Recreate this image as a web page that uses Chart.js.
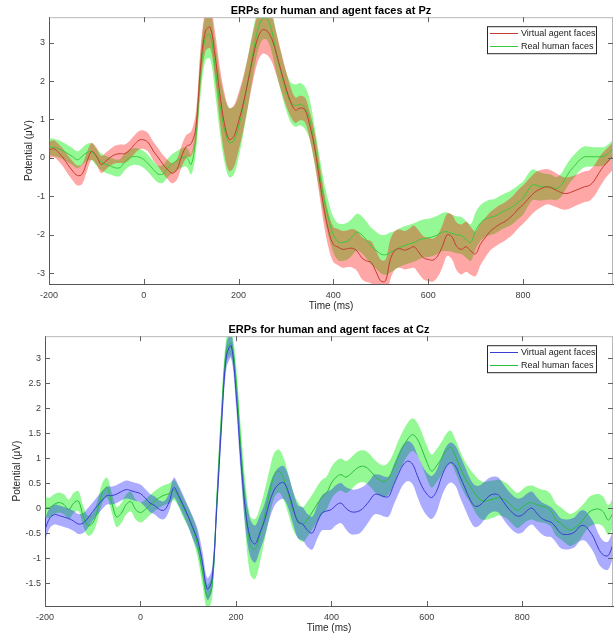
<!DOCTYPE html>
<html>
<head>
<meta charset="utf-8">
<script src="https://cdn.jsdelivr.net/npm/chart.js@4.4.0/dist/chart.umd.min.js"></script>
<style>
  html, body { margin: 0; padding: 0; background: #fff; }
  .panel { position: absolute; left: 0; width: 616px; height: 319px; }
  #pz-panel { top: 0; }
  #cz-panel { top: 319px; }
</style>
</head>
<body>
<div class="panel" id="pz-panel"><canvas id="pzChart" width="616" height="319"></canvas></div>
<div class="panel" id="cz-panel"><canvas id="czChart" width="616" height="319"></canvas></div>
<script>
// time axis (ms), one sample every 10 ms
const times = [
  -200, -190, -180, -170, -160, -150, -140, -130, -120, -110,
  -100, -90, -80, -70, -60, -50, -40, -30, -20, -10,
  0, 10, 20, 30, 40, 50, 60, 70, 80, 90,
  100, 110, 120, 130, 140, 150, 160, 170, 180, 190,
  200, 210, 220, 230, 240, 250, 260, 270, 280, 290,
  300, 310, 320, 330, 340, 350, 360, 370, 380, 390,
  400, 410, 420, 430, 440, 450, 460, 470, 480, 490,
  500, 510, 520, 530, 540, 550, 560, 570, 580, 590,
  600, 610, 620, 630, 640, 650, 660, 670, 680, 690,
  700, 710, 720, 730, 740, 750, 760, 770, 780, 790,
  800, 810, 820, 830, 840, 850, 860, 870, 880, 890,
  900, 910, 920, 930, 940, 950, 960, 970, 980, 990,
];

const seriesLabels = ["Virtual agent faces", "Real human faces"];
const xTicks = [-200, 0, 200, 400, 600, 800];
const pzTicks = [-3, -2, -1, 0, 1, 2, 3];
const czTicks = [-1.5, -1, -0.5, 0, 0.5, 1, 1.5, 2, 2.5, 3];

// Pz
const pzAgentMean = [
  0.20, 0.24, 0.14, 0.00, -0.18, -0.34, -0.46, -0.42, -0.10, 0.17,
  0.05, -0.17, -0.08, 0.02, 0.09, 0.11, 0.11, 0.20, 0.34, 0.46,
  0.47, 0.39, 0.18, 0.02, -0.16, -0.30, -0.40, -0.30, 0.05, 0.30,
  0.37, 0.80, 2.40, 3.30, 3.40, 2.70, 1.70, 0.90, 0.48, 0.56,
  0.95, 1.42, 2.00, 2.60, 3.10, 3.33, 3.30, 3.10, 2.70, 2.25,
  1.82, 1.45, 1.24, 1.30, 1.25, 0.85, 0.30, -0.50, -1.30, -1.90,
  -2.25, -2.32, -2.38, -2.36, -2.35, -2.42, -2.60, -2.68, -2.72, -2.96,
  -3.20, -3.20, -2.65, -2.40, -2.36, -2.40, -2.36, -2.31, -2.45, -2.60,
  -2.64, -2.66, -2.55, -2.30, -2.00, -2.05, -2.30, -2.38, -2.31, -2.42,
  -2.50, -2.25, -2.08, -1.92, -1.82, -1.73, -1.67, -1.58, -1.47, -1.33,
  -1.22, -1.08, -0.95, -0.85, -0.79, -0.75, -0.78, -0.84, -0.90, -0.93,
  -0.90, -0.85, -0.80, -0.75, -0.72, -0.60, -0.40, -0.22, -0.08, 0.05,
];
const pzAgentSem = [
  0.22, 0.22, 0.22, 0.23, 0.24, 0.25, 0.26, 0.26, 0.25, 0.22,
  0.22, 0.22, 0.22, 0.22, 0.23, 0.24, 0.24, 0.24, 0.24, 0.24,
  0.24, 0.24, 0.24, 0.24, 0.24, 0.25, 0.26, 0.27, 0.28, 0.30,
  0.32, 0.40, 0.50, 0.52, 0.55, 0.60, 0.70, 0.80, 0.82, 0.80,
  0.75, 0.70, 0.65, 0.63, 0.62, 0.62, 0.62, 0.60, 0.55, 0.50,
  0.45, 0.38, 0.33, 0.32, 0.32, 0.35, 0.40, 0.42, 0.44, 0.45,
  0.46, 0.47, 0.48, 0.48, 0.50, 0.52, 0.55, 0.55, 0.55, 0.55,
  0.55, 0.55, 0.52, 0.50, 0.50, 0.50, 0.52, 0.55, 0.56, 0.56,
  0.56, 0.56, 0.55, 0.55, 0.55, 0.58, 0.62, 0.65, 0.65, 0.62,
  0.58, 0.55, 0.52, 0.50, 0.50, 0.50, 0.50, 0.50, 0.50, 0.50,
  0.50, 0.50, 0.50, 0.50, 0.48, 0.46, 0.45, 0.44, 0.43, 0.42,
  0.41, 0.40, 0.40, 0.40, 0.40, 0.40, 0.40, 0.38, 0.36, 0.35,
];
const pzHumanMean = [
  0.29, 0.27, 0.24, 0.18, 0.11, 0.03, -0.05, 0.04, 0.14, 0.16,
  0.02, -0.10, -0.17, -0.21, -0.26, -0.25, -0.10, 0.00, 0.04, 0.02,
  -0.04, -0.16, -0.30, -0.42, -0.42, -0.27, -0.15, -0.07, 0.00, 0.02,
  -0.17, 0.55, 2.19, 3.14, 3.20, 2.40, 1.45, 0.75, 0.40, 0.45,
  0.80, 1.35, 2.00, 2.70, 3.30, 3.62, 3.62, 3.30, 2.70, 2.20,
  1.75, 1.45, 1.36, 1.40, 1.30, 1.00, 0.35, -0.35, -1.05, -1.60,
  -2.00, -2.18, -2.20, -2.16, -2.05, -1.93, -2.00, -2.14, -2.30, -2.40,
  -2.50, -2.52, -2.46, -2.40, -2.33, -2.28, -2.24, -2.20, -2.14, -2.10,
  -2.08, -2.05, -2.00, -1.93, -1.92, -1.96, -2.00, -2.02, -2.12, -2.20,
  -1.90, -1.70, -1.60, -1.55, -1.52, -1.45, -1.38, -1.33, -1.25, -1.15,
  -1.05, -0.85, -0.70, -0.72, -0.75, -0.75, -0.76, -0.80, -0.72, -0.52,
  -0.33, -0.19, -0.05, 0.03, 0.03, 0.03, 0.03, 0.04, 0.12, 0.26,
];
const pzHumanSem = [
  0.22, 0.22, 0.22, 0.22, 0.22, 0.22, 0.22, 0.22, 0.22, 0.22,
  0.22, 0.22, 0.22, 0.22, 0.22, 0.22, 0.22, 0.22, 0.22, 0.22,
  0.22, 0.22, 0.22, 0.22, 0.23, 0.24, 0.25, 0.25, 0.25, 0.25,
  0.26, 0.40, 0.55, 0.60, 0.62, 0.66, 0.75, 0.85, 0.90, 0.88,
  0.80, 0.72, 0.66, 0.60, 0.56, 0.55, 0.55, 0.55, 0.52, 0.50,
  0.50, 0.52, 0.55, 0.55, 0.55, 0.52, 0.48, 0.46, 0.45, 0.45,
  0.46, 0.48, 0.48, 0.48, 0.48, 0.48, 0.48, 0.48, 0.48, 0.48,
  0.50, 0.52, 0.52, 0.50, 0.50, 0.50, 0.50, 0.50, 0.50, 0.50,
  0.50, 0.50, 0.50, 0.50, 0.50, 0.48, 0.48, 0.48, 0.48, 0.48,
  0.48, 0.47, 0.46, 0.46, 0.45, 0.45, 0.45, 0.45, 0.45, 0.44,
  0.43, 0.42, 0.40, 0.38, 0.36, 0.34, 0.32, 0.30, 0.30, 0.30,
  0.30, 0.30, 0.28, 0.27, 0.26, 0.25, 0.25, 0.24, 0.23, 0.22,
];

// Cz
const czAgentMean = [
  -0.43, -0.20, -0.13, -0.15, -0.18, -0.21, -0.26, -0.32, -0.30, -0.20,
  -0.07, 0.05, 0.16, 0.25, 0.25, 0.28, 0.33, 0.37, 0.35, 0.32,
  0.29, 0.20, 0.10, 0.05, -0.03, -0.04, 0.12, 0.41, 0.25, 0.05,
  -0.17, -0.40, -0.65, -1.10, -1.62, -1.43, 0.04, 1.70, 3.04, 3.25,
  2.35, 1.00, -0.05, -0.60, -0.72, -0.50, -0.25, 0.10, 0.36, 0.48,
  0.51, 0.32, 0.00, -0.28, -0.32, -0.45, -0.50, -0.29, -0.10, -0.06,
  -0.03, 0.06, 0.10, 0.00, -0.07, -0.08, -0.05, 0.03, 0.15, 0.27,
  0.27, 0.23, 0.23, 0.45, 0.67, 0.86, 0.94, 0.88, 0.65, 0.43,
  0.28, 0.21, 0.33, 0.60, 0.82, 0.91, 0.84, 0.62, 0.40, 0.18,
  0.04, 0.05, 0.14, 0.24, 0.28, 0.26, 0.13, 0.00, -0.10, -0.16,
  -0.14, -0.05, 0.00, -0.10, -0.20, -0.25, -0.28, -0.38, -0.50, -0.53,
  -0.52, -0.48, -0.37, -0.35, -0.45, -0.60, -0.82, -0.94, -0.95, -0.72,
];
const czAgentSem = [
  0.22, 0.20, 0.20, 0.20, 0.20, 0.20, 0.20, 0.20, 0.20, 0.20,
  0.18, 0.18, 0.18, 0.18, 0.18, 0.18, 0.18, 0.18, 0.18, 0.18,
  0.18, 0.18, 0.18, 0.18, 0.18, 0.18, 0.18, 0.20, 0.20, 0.20,
  0.20, 0.22, 0.22, 0.22, 0.22, 0.22, 0.25, 0.25, 0.25, 0.25,
  0.27, 0.30, 0.35, 0.37, 0.37, 0.35, 0.33, 0.33, 0.33, 0.33,
  0.33, 0.33, 0.33, 0.33, 0.33, 0.33, 0.33, 0.33, 0.35, 0.38,
  0.40, 0.40, 0.40, 0.42, 0.45, 0.45, 0.45, 0.42, 0.40, 0.40,
  0.40, 0.40, 0.40, 0.40, 0.40, 0.40, 0.40, 0.40, 0.42, 0.43,
  0.43, 0.43, 0.42, 0.40, 0.40, 0.40, 0.40, 0.42, 0.42, 0.42,
  0.42, 0.40, 0.38, 0.36, 0.35, 0.35, 0.35, 0.35, 0.35, 0.35,
  0.35, 0.34, 0.33, 0.32, 0.32, 0.32, 0.30, 0.30, 0.30, 0.30,
  0.30, 0.30, 0.30, 0.30, 0.30, 0.30, 0.30, 0.28, 0.28, 0.28,
];
const czHumanMean = [
  0.01, 0.01, 0.08, 0.11, 0.07, -0.03, 0.10, 0.14, -0.16, -0.35,
  -0.30, -0.05, 0.30, 0.41, 0.10, -0.18, -0.10, 0.07, 0.13, -0.03,
  -0.09, -0.03, 0.06, 0.14, 0.21, 0.26, 0.29, 0.36, 0.22, 0.00,
  -0.18, -0.42, -0.75, -1.30, -1.78, -1.56, 0.17, 1.90, 3.17, 3.30,
  2.60, 1.25, 0.00, -0.75, -0.82, -0.55, -0.15, 0.28, 0.65, 0.74,
  0.58, 0.27, -0.06, -0.24, -0.33, -0.22, -0.08, 0.08, 0.21, 0.30,
  0.50, 0.62, 0.67, 0.62, 0.68, 0.77, 0.83, 0.83, 0.76, 0.65,
  0.57, 0.53, 0.60, 0.78, 1.02, 1.22, 1.38, 1.47, 1.38, 1.17,
  0.92, 0.74, 0.84, 0.98, 1.15, 1.22, 1.04, 0.80, 0.60, 0.45,
  0.30, 0.18, 0.14, 0.16, 0.18, 0.21, 0.18, 0.12, 0.02, -0.05,
  0.02, 0.09, 0.11, 0.07, 0.04, 0.02, -0.05, -0.23, -0.30, -0.38,
  -0.44, -0.40, -0.32, -0.20, -0.08, -0.03, -0.02, -0.08, -0.24, -0.10,
];
const czHumanSem = [
  0.20, 0.20, 0.20, 0.20, 0.20, 0.20, 0.20, 0.20, 0.20, 0.20,
  0.20, 0.20, 0.20, 0.20, 0.20, 0.20, 0.20, 0.20, 0.20, 0.20,
  0.20, 0.20, 0.20, 0.20, 0.20, 0.20, 0.20, 0.20, 0.20, 0.20,
  0.20, 0.22, 0.25, 0.25, 0.25, 0.25, 0.25, 0.25, 0.25, 0.25,
  0.30, 0.40, 0.50, 0.58, 0.60, 0.55, 0.50, 0.47, 0.45, 0.43,
  0.42, 0.40, 0.38, 0.36, 0.35, 0.35, 0.35, 0.35, 0.35, 0.33,
  0.32, 0.32, 0.32, 0.32, 0.32, 0.32, 0.32, 0.32, 0.32, 0.32,
  0.32, 0.32, 0.32, 0.32, 0.32, 0.33, 0.33, 0.33, 0.33, 0.33,
  0.33, 0.33, 0.33, 0.33, 0.33, 0.33, 0.33, 0.33, 0.33, 0.33,
  0.36, 0.38, 0.38, 0.38, 0.37, 0.36, 0.35, 0.35, 0.35, 0.35,
  0.35, 0.35, 0.34, 0.34, 0.33, 0.33, 0.32, 0.32, 0.32, 0.32,
  0.32, 0.32, 0.32, 0.30, 0.30, 0.30, 0.30, 0.30, 0.30, 0.30,
];

Chart.defaults.font.family = "'Liberation Sans', Arial, sans-serif";
Chart.defaults.color = "#404040";

// matlab-like box: light top/right edges plus inward ticks on all four sides
const boxTicks = {
  id: "boxTicks",
  afterDatasetsDraw(chart) {
    const { ctx, chartArea: a, scales } = chart;
    const len = 5;
    ctx.save();
    ctx.lineWidth = 1;
    ctx.strokeStyle = "#b8b8b8";
    ctx.beginPath();
    ctx.moveTo(a.left, a.top + 0.5);
    ctx.lineTo(a.right, a.top + 0.5);
    ctx.moveTo(a.right - 0.5, a.top);
    ctx.lineTo(a.right - 0.5, a.bottom);
    ctx.stroke();
    ctx.strokeStyle = "#606060";
    ctx.beginPath();
    scales.x.ticks.forEach((t) => {
      const px = Math.round(scales.x.getPixelForValue(t.value)) + 0.5;
      ctx.moveTo(px, a.bottom);
      ctx.lineTo(px, a.bottom - len);
      ctx.moveTo(px, a.top);
      ctx.lineTo(px, a.top + len);
    });
    scales.y.ticks.forEach((t) => {
      const py = Math.round(scales.y.getPixelForValue(t.value)) + 0.5;
      ctx.moveTo(a.left, py);
      ctx.lineTo(a.left + len, py);
      ctx.moveTo(a.right, py);
      ctx.lineTo(a.right - len, py);
    });
    ctx.stroke();
    ctx.restore();
  },
};

// boxed legend in the upper right corner of the axes
const boxLegend = {
  id: "boxLegend",
  afterDraw(chart) {
    const { ctx, chartArea: a } = chart;
    const items = chart.data.datasets.filter((d) => d.inLegend);
    const w = 110;
    const h = 28;
    const x0 = a.right - 16 - w;
    const y0 = a.top + 9;
    ctx.save();
    ctx.fillStyle = "#fff";
    ctx.fillRect(x0, y0, w, h);
    ctx.strokeStyle = "#262626";
    ctx.lineWidth = 1;
    ctx.strokeRect(x0 + 0.5, y0 + 0.5, w - 1, h - 1);
    ctx.font = "9px 'Liberation Sans', Arial, sans-serif";
    ctx.textBaseline = "middle";
    ctx.textAlign = "left";
    items.forEach((d, i) => {
      const y = Math.round(y0 + 7 + i * 13) + 0.5;
      ctx.strokeStyle = d.borderColor;
      ctx.beginPath();
      ctx.moveTo(x0 + 3, y);
      ctx.lineTo(x0 + 31, y);
      ctx.stroke();
      ctx.fillStyle = "#1a1a1a";
      ctx.fillText(d.label, x0 + 34, y);
    });
    ctx.restore();
  },
};

function toPoints(mean, sem, sign) {
  return times.map((t, i) => ({ x: t, y: mean[i] + sign * sem[i] }));
}

function buildChart(canvasId, opts) {
  const lineBase = { pointRadius: 0, borderWidth: 1, tension: 0.35, fill: false };
  const bandBase = { pointRadius: 0, borderWidth: 0, tension: 0.35 };
  return new Chart(document.getElementById(canvasId), {
    type: "line",
    data: {
      datasets: [
        { ...lineBase, label: seriesLabels[0], inLegend: true, borderColor: opts.agentLine, data: toPoints(opts.agentMean, opts.agentSem, 0) },
        { ...lineBase, label: seriesLabels[1], inLegend: true, borderColor: opts.humanLine, data: toPoints(opts.humanMean, opts.humanSem, 0) },
        { ...bandBase, label: "agent upper", backgroundColor: opts.agentBand, fill: "+1", data: toPoints(opts.agentMean, opts.agentSem, 1) },
        { ...bandBase, label: "agent lower", fill: false, data: toPoints(opts.agentMean, opts.agentSem, -1) },
        { ...bandBase, label: "human upper", backgroundColor: opts.humanBand, fill: "+1", data: toPoints(opts.humanMean, opts.humanSem, 1) },
        { ...bandBase, label: "human lower", fill: false, data: toPoints(opts.humanMean, opts.humanSem, -1) },
      ],
    },
    options: {
      responsive: false,
      animation: false,
      layout: { padding: { left: 0, right: 3, top: 0, bottom: 0 } },
      plugins: {
        legend: { display: false },
        tooltip: { enabled: false },
        filler: { drawTime: "beforeDatasetsDraw" },
        title: {
          display: true,
          text: opts.title,
          fullSize: false,
          color: "#000",
          font: { size: 11, weight: "bold", lineHeight: 1.2 },
          padding: { top: 4, bottom: 0 },
        },
      },
      scales: {
        x: {
          type: "linear",
          min: -200,
          max: 990,
          afterBuildTicks: (s) => { s.ticks = xTicks.map((v) => ({ value: v })); },
          afterFit: (s) => { s.height = opts.xHeight; },
          ticks: { font: { size: 9 }, padding: 6, maxRotation: 0, autoSkip: false, callback: (v) => String(v) },
          grid: { display: false, drawTicks: false },
          border: { display: true, color: "#555" },
          title: { display: true, text: "Time (ms)", color: "#262626", font: { size: 10 }, padding: { top: 0, bottom: opts.xTitlePad } },
        },
        y: {
          min: opts.yMin,
          max: opts.yMax,
          afterBuildTicks: (s) => { s.ticks = opts.yTicks.map((v) => ({ value: v })); },
          afterFit: (s) => { s.width = opts.yWidth; },
          ticks: { font: { size: 9 }, padding: 4, callback: (v) => String(v) },
          grid: { display: false, drawTicks: false },
          border: { display: true, color: "#555" },
          title: { display: true, text: "Potential (μV)", color: "#262626", font: { size: 10 }, padding: { top: opts.yTitlePad, bottom: 0 } },
        },
      },
    },
    plugins: [boxTicks, boxLegend],
  });
}

buildChart("pzChart", {
  title: "ERPs for human and agent faces at Pz",
  agentMean: pzAgentMean, agentSem: pzAgentSem,
  humanMean: pzHumanMean, humanSem: pzHumanSem,
  agentLine: "rgb(196, 60, 50)", humanLine: "rgb(60, 200, 60)",
  agentBand: "rgba(255, 0, 0, 0.35)", humanBand: "rgba(0, 240, 0, 0.42)",
  yMin: -3.28, yMax: 3.66, yTicks: pzTicks,
  yWidth: 49, yTitlePad: 23, xHeight: 35, xTitlePad: 7,
});

buildChart("czChart", {
  title: "ERPs for human and agent faces at Cz",
  agentMean: czAgentMean, agentSem: czAgentSem,
  humanMean: czHumanMean, humanSem: czHumanSem,
  agentLine: "rgb(60, 60, 210)", humanLine: "rgb(40, 190, 60)",
  agentBand: "rgba(0, 0, 255, 0.33)", humanBand: "rgba(0, 240, 0, 0.42)",
  yMin: -1.96, yMax: 3.44, yTicks: czTicks,
  yWidth: 45, yTitlePad: 11, xHeight: 32, xTitlePad: 4,
});
</script>
</body>
</html>
